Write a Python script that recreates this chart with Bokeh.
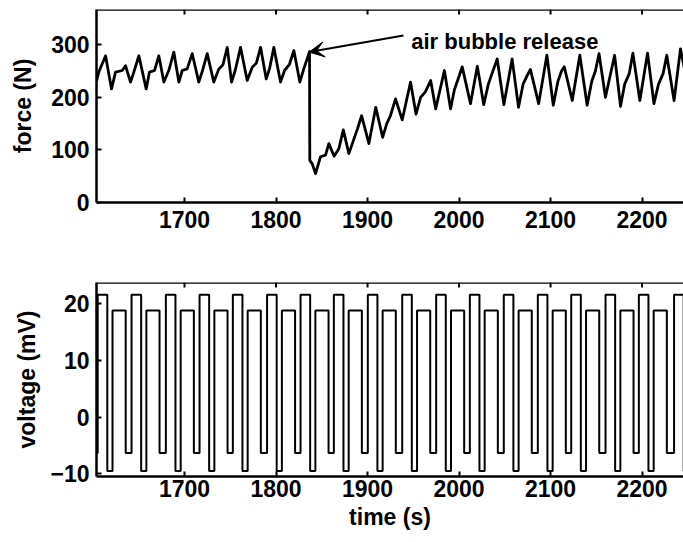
from bokeh.plotting import figure
from bokeh.layouts import column
from bokeh.models import Range1d, FixedTicker, Arrow, VeeHead, Label, Span
from bokeh.embed import file_html
from bokeh.resources import INLINE

# ---------------- data ----------------
force_t = [1603.5, 1606.3, 1613.7, 1620.2, 1624.6, 1631.9, 1635.5, 1641.0,
           1644.6, 1650.1, 1658.1, 1661.7, 1667.2, 1671.9, 1677.4,
           1682.8, 1688.3, 1693.8, 1697.5, 1702.9, 1708.4, 1715.6,
           1719.5, 1724.8, 1732.0, 1737.5, 1742.0, 1746.7, 1751.4,
           1755.5, 1761.2, 1768.5, 1774.0, 1778.5, 1783.1, 1789.3,
           1793.0, 1797.6, 1804.9, 1809.3, 1814.5, 1819.5, 1826.0,
           1830.5, 1836.6, 1836.9, 1839.5, 1843.2, 1848.6, 1854.1, 1857.7, 1863.5,
           1868.6, 1873.5, 1879.6, 1885.0, 1889.0, 1893.5, 1901.5,
           1909.0, 1916.5, 1921.0, 1925.0, 1930.6, 1937.9,
           1947.0, 1953.0, 1958.0, 1963.0, 1969.0, 1974.5,
           1984.0, 1990.7, 1995.0, 1999.0, 2003.5, 2012.5,
           2020.0, 2027.0, 2032.0, 2036.0, 2041.7, 2049.0,
           2058.0, 2065.0, 2070.0, 2074.0, 2078.0, 2087.0,
           2096.0, 2103.0, 2108.0, 2112.0, 2115.0, 2123.7,
           2132.0, 2140.0, 2145.0, 2149.0, 2153.0, 2160.0,
           2170.0, 2176.5, 2181.0, 2186.0, 2190.0, 2197.6,
           2206.0, 2213.0, 2218.0, 2223.0, 2227.0, 2235.0,
           2242.0, 2248.0]
force_v = [229, 248, 279, 216, 248, 251, 260, 229,
           248, 279, 216, 248, 251, 279, 229,
           251, 286, 229, 251, 254, 283, 229,
           250, 283, 229, 254, 262, 295, 229,
           252, 295, 232, 257, 265, 295, 235,
           255, 295, 229, 251, 262, 289, 229,
           255, 287, 80, 74, 55, 87, 90, 112, 88,
           102, 138, 93, 120, 140, 165, 112,
           181, 124, 150, 165, 197, 157,
           229, 168, 200, 210, 232, 178,
           251, 178, 215, 235, 258, 188,
           259, 186, 225, 245, 273, 186,
           273, 181, 225, 240, 253, 188,
           280, 185, 230, 250, 258, 194,
           280, 185, 230, 250, 283, 200,
           280, 183, 225, 245, 284, 194,
           284, 188, 225, 245, 280, 194,
           292, 240]

# voltage: times at which each cycle rises to the top level, and the
# level / time-into-cycle of each of the four steps of a cycle
volt_cycle_start = [1605.1, 1642.1, 1679.6, 1716.4, 1752.8, 1790.2, 1826.8,
                    1863.2, 1900.3, 1937.9, 1975.0, 2011.8, 2048.9, 2086.1,
                    2122.6, 2160.1, 2196.5, 2235.0]
volt_levels = [21.6, -9.5, 18.8, -6.3]
volt_step_offsets = [0.0, 10.5, 16.2, 30.6]

x_ticks = [1700, 1800, 1900, 2000, 2100, 2200]
force_ticks = [0, 100, 200, 300]
volt_ticks = [-10, 0, 10, 20]

X_START, X_END = 1603.8, 2245.3
FONT = "Liberation Sans"
FS = "23px"


def style_axis(ax, ticks):
    ax.ticker = FixedTicker(ticks=ticks)
    ax.axis_line_color = "black"
    ax.axis_line_width = 2.5
    ax.major_tick_line_color = "black"
    ax.major_tick_line_width = 2
    ax.major_tick_in = 5
    ax.major_tick_out = 0
    ax.minor_tick_line_color = None
    ax.major_label_text_font = FONT
    ax.major_label_text_font_style = "bold"
    ax.major_label_text_font_size = FS
    ax.major_label_text_color = "black"
    ax.axis_label_text_font = FONT
    ax.axis_label_text_font_style = "bold"
    ax.axis_label_text_font_size = FS
    ax.axis_label_text_color = "black"


def make_fig(y0, y1, yticks, ylabel, frame_h, top, bottom, xstand, ystand,
             tick_len, xlabel=None):
    p = figure(frame_width=587, frame_height=frame_h,
               x_range=Range1d(X_START, X_END), y_range=Range1d(y0, y1),
               output_backend="svg", toolbar_location=None,
               min_border_left=96, min_border_right=0,
               min_border_top=top, min_border_bottom=bottom,
               outline_line_color=None, background_fill_color="white",
               border_fill_color="white")
    p.grid.visible = False
    style_axis(p.xaxis[0], x_ticks)
    p.xaxis[0].major_label_standoff = xstand
    if xlabel:
        p.xaxis[0].axis_label = xlabel
        p.xaxis[0].axis_label_standoff = 4
    style_axis(p.yaxis[0], yticks)
    p.yaxis[0].major_label_standoff = 7
    p.yaxis[0].axis_label = ylabel
    p.yaxis[0].axis_label_standoff = ystand
    # top border with inward ticks
    p.add_layout(Span(location=y1, dimension="width", line_color="black",
                      line_width=2.5))
    p.segment(x0=x_ticks, x1=x_ticks, y0=[y1] * len(x_ticks),
              y1=[y1 - tick_len] * len(x_ticks), line_color="black", line_width=2)
    return p


# ---------------- force panel ----------------
p1 = make_fig(0, 367, force_ticks, "force (N)", 193, 9, 40, 8, 12, 9.5)
p1.line(force_t, force_v, line_color="black", line_width=2.8, line_join="round")
p1.add_layout(Arrow(end=VeeHead(size=15, fill_color="black", line_color="black"),
                    x_start=1939.3, y_start=317.5, x_end=1836.2, y_end=286.0,
                    line_color="black", line_width=2))
p1.add_layout(Label(x=1947.8, y=305.7, text="air bubble release",
                    text_font=FONT, text_font_style="bold", text_font_size="22px",
                    text_color="black", text_baseline="alphabetic", text_align="left"))

# ---------------- voltage panel ----------------
vx = [1590.0]
vy = [volt_levels[-1]]
for s in volt_cycle_start:
    for off, lev in zip(volt_step_offsets, volt_levels):
        vx.append(s + off)
        vy.append(lev)
vx.append(2260.0)
vy.append(vy[-1])

p2 = make_fig(-10.46, 23.76, volt_ticks, "voltage (mV)", 194, 40, 66, 3, 7, 0.88,
              xlabel="time (s)")
p2.step(vx, vy, mode="after", line_color="black", line_width=2)

layout = column(p1, p2, spacing=0)
open("out.html", "w").write(file_html(layout, INLINE))
